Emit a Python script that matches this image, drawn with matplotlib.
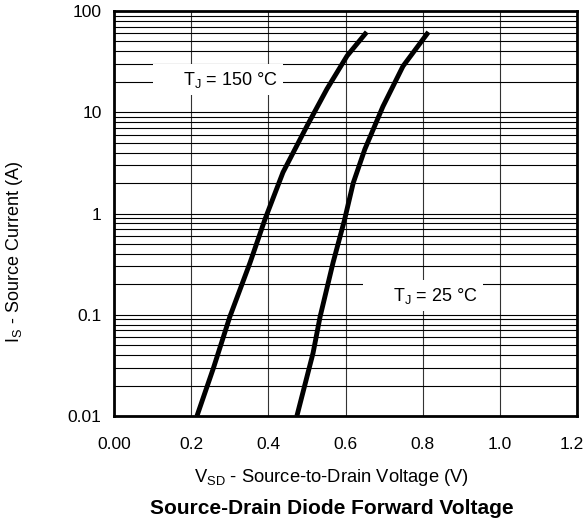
import matplotlib
matplotlib.use("Agg")
import matplotlib.pyplot as plt
from matplotlib.ticker import FixedLocator, LogLocator, NullFormatter
from matplotlib.transforms import ScaledTranslation

plt.rcParams['font.family'] = ['Liberation Sans', 'DejaVu Sans']

# Data
v_150 = [0.215, 0.258, 0.300, 0.353, 0.391, 0.438, 0.500, 0.552, 0.604, 0.655]
i_150 = [0.01, 0.03, 0.095, 0.33, 0.87, 2.55, 7.3, 17.0, 36.0, 62.0]
v_25 = [0.474, 0.516, 0.534, 0.568, 0.597, 0.620, 0.650, 0.697, 0.749, 0.815]
i_25 = [0.01, 0.042, 0.095, 0.33, 0.85, 2.0, 4.3, 11.4, 28.5, 62.0]

x_ticks = [0.0, 0.2, 0.4, 0.6, 0.8, 1.0, 1.2]
x_tick_labels = ["0.00", "0.2", "0.4", "0.6", "0.8", "1.0", "1.2"]
y_ticks = [0.01, 0.1, 1, 10, 100]
y_tick_labels = ["0.01", "0.1", "1", "10", "100"]

W, H = 587, 523
fig = plt.figure(figsize=(W / 100, H / 100), dpi=100)
ax = fig.add_axes([114 / W, (H - 416) / H, 463 / W, (416 - 11) / H])

ax.set_xlim(0, 1.2)
ax.set_yscale('log')
ax.set_ylim(0.01, 100)

ax.set_xticks(x_ticks)
ax.set_xticklabels(x_tick_labels)
ax.yaxis.set_major_locator(FixedLocator(y_ticks))
ax.set_yticklabels(y_tick_labels)
ax.yaxis.set_minor_locator(LogLocator(base=10, subs=range(2, 10)))
ax.yaxis.set_minor_formatter(NullFormatter())

ax.tick_params(axis='both', which='both', length=0, labelsize=12.5)
ax.tick_params(axis='x', pad=15)
ax.tick_params(axis='y', pad=9)

# keep the last x label inside the figure, as in the reference
last = ax.get_xticklabels()[-1]
last.set_transform(last.get_transform() + ScaledTranslation(-5 / 100, 0, fig.dpi_scale_trans))

ax.grid(True, which='major', axis='x', color='#333333', linewidth=0.8)
ax.grid(True, which='major', axis='y', color='black', linewidth=0.8)
ax.grid(True, which='minor', axis='y', color='black', linewidth=0.8)
ax.set_axisbelow(True)

for s in ax.spines.values():
    s.set_linewidth(2)

ax.plot(v_150, i_150, color='black', linewidth=3.5, solid_capstyle='butt', zorder=3)
ax.plot(v_25, i_25, color='black', linewidth=3.5, solid_capstyle='butt', zorder=3)

box = dict(boxstyle='square,pad=0.3', facecolor='white', edgecolor='none')
ax.text(0.425, 21.0, r"     T$_\mathregular{J}$ = 150 °C", fontsize=13, ha='right', va='center',
        bbox=box, zorder=4)
ax.text(0.9435, 0.154, r"     T$_\mathregular{J}$ = 25 °C", fontsize=13, ha='right', va='center',
        bbox=box, zorder=4)

fig.text(15 / W, 1 - 252 / H, r"I$_\mathregular{S}$ - Source Current (A)", fontsize=13,
         rotation=90, ha='center', va='center')
fig.text(331 / W, 1 - 477 / H, r"V$_\mathregular{SD}$ - Source-to-Drain Voltage (V)", fontsize=13.2,
         ha='center', va='center')
fig.text(332 / W, 1 - 508 / H, "Source-Drain Diode Forward Voltage", fontsize=15,
         fontweight='bold', ha='center', va='center')

fig.savefig("out.png", dpi=100)
